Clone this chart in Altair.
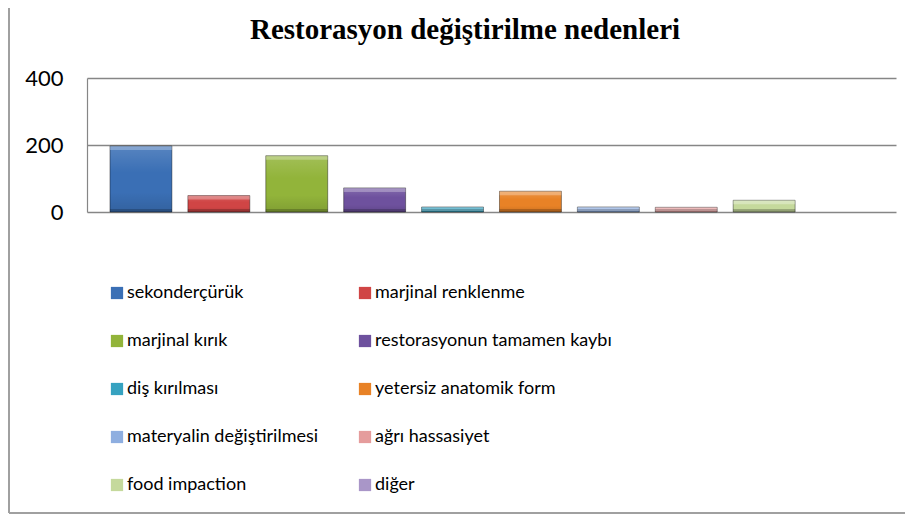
import altair as alt
import pandas as pd

categories = ["sekonderçürük", "marjinal renklenme", "marjinal kırık",
              "restorasyonun tamamen kaybı", "diş kırılması", "yetersiz anatomik form",
              "materyalin değiştirilmesi", "ağrı hassasiyet", "food impaction", "diğer"]
values = [197, 49, 168, 72, 15, 62, 15, 14, 35, 0]
colors = ["#3A6FB5", "#D04545", "#92B43A", "#6E519E", "#36A2C0",
          "#E88226", "#8EAEE0", "#E59C9C", "#C5D99C", "#A996C8"]
y_ticks = [0, 200, 400]

df = pd.DataFrame({"cat": categories, "val": values})

FONT = "Lato"

x_enc = alt.X("cat:N", sort=categories, axis=None,
              scale=alt.Scale(paddingInner=0.205, paddingOuter=0.295))
y_enc = alt.Y("val:Q", title=None,
              scale=alt.Scale(domain=[0, 400]),
              axis=alt.Axis(values=y_ticks, grid=True, gridColor="#868686", gridWidth=1.6,
                            domain=True, domainColor="#868686", domainWidth=1.2,
                            ticks=False, labelPadding=24, labelFont=FONT,
                            labelFontSize=22, labelColor="#000000"))

bars = alt.Chart(df).mark_bar().encode(
    x=x_enc, y=y_enc,
    color=alt.Color("cat:N", sort=categories,
                    scale=alt.Scale(domain=categories, range=colors),
                    legend=alt.Legend(title=None, orient="none", legendX=21, legendY=206,
                                      direction="horizontal", columns=2,
                                      columnPadding=37, rowPadding=30,
                                      symbolType="square", symbolSize=150,
                                      symbolStrokeWidth=0, labelFont=FONT,
                                      labelFontSize=18, labelColor="#000000",
                                      labelLimit=400, labelOffset=1))
)

visible = alt.condition(alt.datum.val > 0, alt.value(1), alt.value(0))

shade = alt.Chart(df).mark_bar(
    fill=alt.Gradient(gradient="linear", x1=0, x2=0, y1=0, y2=1,
                      stops=[alt.GradientStop(color="rgba(255,255,255,0.15)", offset=0),
                             alt.GradientStop(color="rgba(255,255,255,0.0)", offset=0.4),
                             alt.GradientStop(color="rgba(0,0,0,0.0)", offset=0.7),
                             alt.GradientStop(color="rgba(0,0,0,0.12)", offset=1)]),
    stroke="#000000", strokeWidth=0.8
).encode(
    x=x_enc, y=alt.Y("val:Q"),
    strokeOpacity=alt.condition(alt.datum.val > 0, alt.value(0.5), alt.value(0))
)

top_bevel = alt.Chart(df).mark_bar(fill="#FFFFFF", fillOpacity=0.28, y2Offset=4).encode(
    x=x_enc, y=alt.Y("val:Q"), y2=alt.Y2("val:Q"), opacity=visible)

bottom_bevel = alt.Chart(df).mark_bar(fill="#000000", fillOpacity=0.2, yOffset=-3).encode(
    x=x_enc, y=alt.datum(0), y2=alt.datum(0), opacity=visible)

border_df = pd.DataFrame({"a": [0]})
left_border = alt.Chart(border_df).mark_rule(color="#A0A0A0", strokeWidth=2).encode(
    x=alt.value(-78), y=alt.value(-70), y2=alt.value(435))
bottom_border = alt.Chart(border_df).mark_rule(color="#A0A0A0", strokeWidth=2).encode(
    x=alt.value(-78), x2=alt.value(818), y=alt.value(435))

chart = alt.layer(bars, shade, top_bevel, bottom_bevel, left_border, bottom_border).properties(
    width=809, height=134,
    title=alt.TitleParams("Restorasyon değiştirilme nedenleri", font="Liberation Serif",
                          fontSize=29, fontWeight="bold", color="#000000",
                          orient="none", anchor="middle", align="center",
                          dx=378, dy=-39, baseline="alphabetic"),
    autosize=alt.AutoSizeParams(type="none"),
    padding={"left": 79, "top": 70, "right": 10, "bottom": 302}
).configure_view(stroke=None)

chart.save("out.html", embed_options={"renderer": "svg", "actions": False})
